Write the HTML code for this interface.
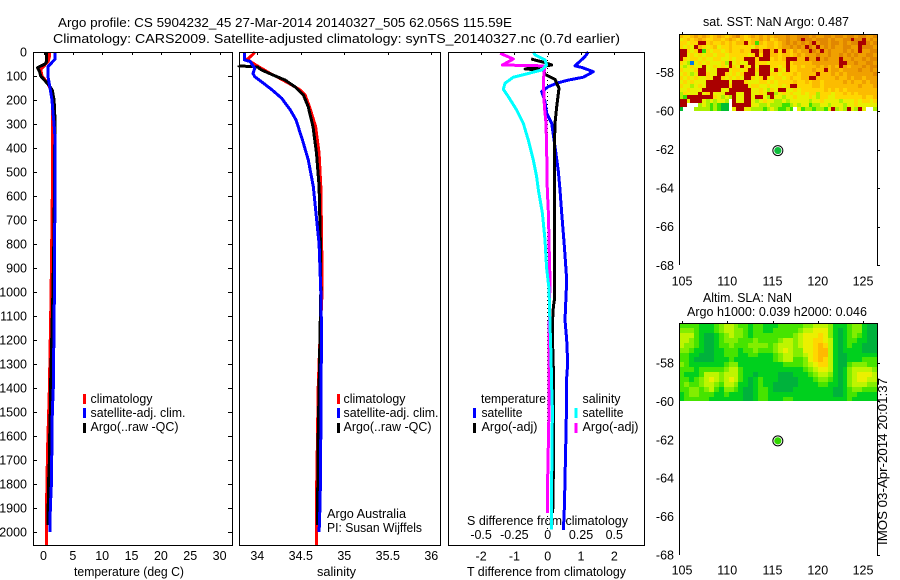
<!DOCTYPE html>
<html>
<head>
<meta charset="utf-8">
<title>Argo profile</title>
<style>
html,body{margin:0;padding:0;background:#fff;width:900px;height:580px;overflow:hidden}
svg{display:block}
text{font-family:"Liberation Sans",sans-serif;font-size:13px;fill:#000}
.tick{font-size:12.5px}
</style>
</head>
<body>
<svg id="chart" xmlns="http://www.w3.org/2000/svg" width="900" height="580" viewBox="0 0 900 580">
<rect x="0" y="0" width="900" height="580" fill="#fff"/>
<text x="58" y="27" textLength="454" lengthAdjust="spacingAndGlyphs">Argo profile: CS 5904232_45 27-Mar-2014 20140327_505 62.056S 115.59E</text>
<text x="53" y="43" textLength="567" lengthAdjust="spacingAndGlyphs">Climatology: CARS2009. Satellite-adjusted climatology: synTS_20140327.nc (0.7d earlier)</text>
<text x="74" y="576" textLength="110" lengthAdjust="spacingAndGlyphs">temperature (deg C)</text>
<text x="317" y="576" textLength="39" lengthAdjust="spacingAndGlyphs">salinity</text>
<text x="467" y="576" textLength="159" lengthAdjust="spacingAndGlyphs">T difference from climatology</text>
<text x="467" y="525" textLength="161" lengthAdjust="spacingAndGlyphs">S difference from climatology</text>
<text x="703" y="26" textLength="146" lengthAdjust="spacingAndGlyphs">sat. SST: NaN Argo: 0.487</text>
<text x="703" y="302" textLength="89" lengthAdjust="spacingAndGlyphs">Altim. SLA: NaN</text>
<text x="687" y="316" textLength="180" lengthAdjust="spacingAndGlyphs">Argo h1000: 0.039 h2000: 0.046</text>
<text x="0" y="0" transform="translate(887 545) rotate(-90)" textLength="167" lengthAdjust="spacingAndGlyphs">IMOS 03-Apr-2014 20:01:37</text>
<text x="327" y="518" textLength="79" lengthAdjust="spacingAndGlyphs">Argo Australia</text>
<text x="327" y="532" textLength="95" lengthAdjust="spacingAndGlyphs">PI: Susan Wijffels</text>
<g id="layer"></g>
</svg>
<script>
// ---- tick labels ----
const depthTicks = [0,100,200,300,400,500,600,700,800,900,1000,1100,1200,1300,1400,1500,1600,1700,1800,1900,2000];
const tempTicks = [0,5,10,15,20,25,30];
const salTicks = [34,34.5,35,35.5,36];
const salTickLabels = ['34','34.5','35','35.5','36'];
const diffTTicks = [-2,-1,0,1,2];
const diffSTicks = [-0.5,-0.25,0,0.25,0.5];
const lonTicks = [105,110,115,120,125];
const latTicks = [-58,-60,-62,-64,-66,-68];

// ---- temperature panel ----
const tempClimDepths = [0,20,40,72,100,124,150,200,300,500,1000,1400,1650,1850,2055];
const tempClimValues = [1.0,1.0,0.8,-0.48,-0.25,0.55,1.1,1.6,1.5,1.55,1.3,1.0,0.7,0.55,0.5];
const tempSatDepths = [0,30,60,100,150,200,250,300,350,600,1000,1400,1500,1700,1800,1900,2000];
const tempSatValues = [1.96,1.96,0.8,0.75,1.1,1.45,1.6,1.8,1.95,1.95,1.85,1.67,1.5,1.4,1.35,1.16,1.1];
const tempArgoDepths = [0,40,50,65,80,100,120,140,160,200,300,350,400,600,800,1000,1200,1400,1500,1600,1700,1800,1900,1970];
const tempArgoValues = [0.55,0.55,0.25,-1,-0.7,-0.48,0.25,1,1.5,1.8,2,1.95,1.9,1.85,1.75,1.6,1.4,1.2,1.15,1.05,1,0.85,0.8,0.75];

// ---- salinity panel ----
const salClimDepths = [0,10,30,40,60,89,110,137,158,179,228,311,422,561,800,1000,1200,1400,1650,1850,2055];
const salClimValues = [33.97,33.95,33.885,33.92,34.01,34.146,34.26,34.395,34.49,34.55,34.6,34.67,34.71,34.73,34.74,34.745,34.72,34.70,34.69,34.68,34.68];
const salSatDepths = [0,33,40,68,89,103,124,158,193,242,283,367,450,561,800,1000,1200,1400,1600,1700,1800,1900,2000];
const salSatValues = [33.85,33.85,33.92,33.97,33.95,33.97,34.05,34.17,34.28,34.38,34.445,34.52,34.586,34.644,34.71,34.73,34.74,34.73,34.73,34.727,34.725,34.72,34.71];
const salArgoDepths = [56,58,62,75,96,117,144,179,228,311,422,561,800,1000,1200,1400,1600,1800,1970];
const salArgoValues = [33.79,33.79,34.0,34.05,34.18,34.32,34.43,34.53,34.585,34.64,34.68,34.71,34.725,34.73,34.72,34.71,34.70,34.695,34.69];

// ---- difference panel ----
const dTSatDepths = [0,19,58,64,82,105,117,128,144,165,207,256,297,394,499,575,672,811,950,1117,1200,1297,1380,1437,1645,1895,1992];
const dTSatValues = [1.22,1.12,0.82,1.02,1.37,1.07,0.62,0.32,0.02,-0.18,-0.08,-0.03,0.12,0.22,0.32,0.37,0.42,0.5,0.57,0.52,0.57,0.6,0.56,0.57,0.54,0.5,0.47];
const dTArgoDepths = [29,44,54,71,75,93,114,151,228,297,394,575,1033,1060,1130,1230,1370,1490,1667,1920];
const dTArgoValues = [-0.5,-0.08,0.12,-0.68,-0.13,-0.08,0.22,0.34,0.27,0.22,0.2,0.2,0.2,0.17,0.14,0.15,0.18,0.18,0.18,0.15];
const dSSatDepths = [0,12,33,54,75,93,105,130,155,186,242,297,367,450,519,575,672,783,900,986,1139,1264,1400,1490,1770,1990];
const dSSatValues = [-0.108,-0.095,-0.02,-0.008,-0.045,-0.17,-0.258,-0.32,-0.333,-0.296,-0.233,-0.183,-0.146,-0.108,-0.083,-0.07,-0.04,-0.02,-0.008,0.01,0.017,0.025,0.03,0.035,0.03,0.03];
const dSArgoDepths = [5,29,54,58,75,117,228,297,394,575,672,839,950,1180,1490,1770,1920];
const dSArgoValues = [-0.358,-0.258,-0.34,-0.02,-0.025,-0.033,-0.025,-0.013,-0.008,-0.003,0.005,0.012,0.017,0.01,0.01,0,-0.003];
const zeroLineDepths = [0,2000];

// ---- map marker ----
const floatLon = [115.59];
const floatLat = [-62.056];

// ---- map cells: colour-scale level per cell, null = no data, 9 = over-range, -3 = under-range ----
const N = null;
const sstGrid = [
[5,4,4,5,6,5,6,5,4,5,6,5,4,5,6,7,5,4,5,6,5,6,5,6,5,6,6,6,7,6,6,7,7,7,6,7,6,6,7,7,6,7,7,6,7,7,6,7,7,6,6,7],
[3,4,5,4,5,6,5,4,4,5,5,4,5,6,5,4,5,4,4,5,5,6,5,6,4,5,6,6,7,6,6,7,9,7,7,6,7,7,7,6,7,6,6,7,7,9,7,7,9,6,7,6],
[4,4,3,4,4,9,9,4,5,4,4,5,4,5,4,5,5,9,4,5,1,5,4,5,5,4,5,6,7,6,7,6,7,6,7,9,6,7,7,6,7,7,6,7,6,7,7,9,9,7,6,7],
[4,3,4,3,9,5,4,3,4,5,3,4,4,5,4,4,4,4,4,3,5,4,4,5,5,4,5,6,6,7,6,7,6,9,7,6,9,6,7,6,7,6,6,7,7,6,6,9,7,7,7,6],
[9,9,4,3,4,9,1,4,3,4,4,3,4,5,4,4,5,4,4,9,9,5,9,9,5,9,4,9,5,4,6,5,6,6,9,7,6,9,6,7,6,6,6,7,6,7,6,9,6,6,7,7],
[9,9,3,4,3,4,3,4,4,3,4,4,3,4,4,4,4,4,3,4,9,4,9,9,5,5,4,5,5,4,5,6,5,6,6,6,7,6,6,7,6,6,7,6,7,6,7,6,6,7,7,6],
[9,4,3,4,4,3,4,3,3,4,4,3,3,4,3,4,4,9,9,9,4,9,9,9,4,5,4,5,9,9,9,5,5,9,6,6,9,6,7,6,6,6,9,6,6,7,6,6,7,6,7,7],
[4,3,2,-3,3,4,3,4,3,3,3,4,2,9,3,4,3,3,9,9,4,4,4,3,4,4,4,4,9,4,5,5,5,5,5,6,6,6,6,6,6,6,9,9,6,6,7,6,6,7,7,6],
[3,2,3,4,3,3,9,3,3,4,3,4,3,9,4,3,9,4,3,9,3,9,9,9,4,4,3,4,9,4,4,5,4,5,5,5,6,5,6,5,6,5,9,6,5,6,6,6,7,6,7,7],
[4,3,3,3,4,9,9,3,3,3,9,9,9,3,4,4,3,4,9,9,4,9,9,9,3,9,4,3,9,4,4,5,5,5,5,6,5,5,9,5,6,6,5,6,6,6,6,7,6,6,7,6],
[3,4,3,2,3,9,9,4,3,3,9,9,4,3,4,3,4,9,9,9,3,9,9,9,4,4,3,4,4,4,5,4,5,5,5,5,9,5,5,5,6,5,6,5,6,6,6,6,6,6,6,7],
[4,3,4,3,4,3,3,4,3,9,9,4,3,4,3,4,3,9,9,4,3,4,9,4,3,4,4,3,4,5,4,4,5,5,9,9,5,5,5,5,5,6,5,5,6,5,6,6,5,6,6,6],
[3,4,3,4,3,3,3,9,9,9,9,9,9,3,9,9,9,4,3,3,3,4,4,3,4,3,4,4,4,4,5,4,4,5,4,5,5,4,5,5,5,5,5,6,5,6,5,5,6,5,6,6],
[4,3,3,2,3,4,3,9,9,9,9,9,9,4,9,9,9,9,3,4,4,3,3,4,3,3,4,3,4,9,9,4,4,4,4,5,5,4,5,5,5,5,5,5,5,5,5,6,5,5,5,6],
[3,3,4,3,3,3,9,9,9,9,9,3,3,9,9,9,9,9,9,3,3,4,3,2,4,3,9,9,3,3,4,3,4,4,4,4,4,4,5,4,5,4,5,4,5,5,5,5,5,5,5,5],
[2,4,3,3,3,9,3,4,9,3,3,3,9,9,9,3,3,9,9,3,3,4,3,9,9,2,3,4,3,4,3,3,4,3,4,4,2,4,4,4,3,4,4,5,4,5,4,5,5,5,5,5],
[2,1,9,9,9,9,9,9,9,4,3,2,3,2,9,3,3,9,9,3,9,9,3,2,9,3,3,2,3,3,4,3,3,3,4,3,2,4,4,3,3,4,4,4,4,4,4,4,5,4,4,5],
[9,9,3,9,9,9,3,2,3,2,3,3,2,N,9,3,3,9,9,3,2,3,4,3,3,2,2,3,2,3,3,3,3,3,2,3,3,4,3,3,3,3,2,3,3,3,4,3,4,4,3,4],
[9,9,N,N,N,2,3,2,1,2,1,0,0,N,9,9,9,9,9,3,3,2,2,3,2,2,2,1,1,2,3,2,3,3,1,2,2,3,3,2,3,3,3,2,3,3,4,3,3,3,3,3],
[0,N,N,N,2,2,2,2,1,2,1,0,0,N,3,9,9,3,3,2,2,2,1,2,3,2,1,1,2,1,N,3,1,2,2,1,2,2,1,3,9,2,3,2,9,3,2,9,3,N,N,2]
];
const slaGrid = [
[2,2,2,2,1,1,1,2,3,4,4,3,2,2,1,2,2,1,1,1,2,2,2,2,2,3,3,4,4,4,3,1,1,1,2,3,3,1,0,0],
[3,3,3,2,1,1,1,2,3,4,4,3,3,2,1,2,2,1,1,2,2,2,2,2,3,4,4,5,5,5,3,1,0,1,2,3,3,1,0,0],
[4,4,4,2,1,0,0,1,2,3,4,3,3,2,1,2,2,2,2,2,2,2,2,3,4,5,5,5,6,5,3,1,0,1,2,3,2,1,0,0],
[4,4,3,2,1,0,0,1,2,3,3,3,2,2,2,3,2,2,2,2,3,4,4,3,4,5,5,6,6,5,4,1,0,1,2,2,1,1,0,0],
[4,3,3,2,1,0,0,1,2,2,3,2,2,2,3,3,3,3,2,3,4,4,4,3,4,5,5,6,7,6,4,1,0,1,2,1,1,0,0,0],
[3,3,2,1,1,0,0,1,1,2,2,2,1,2,2,3,2,2,2,3,4,5,4,3,3,5,5,6,7,7,4,1,0,1,1,1,1,0,0,0],
[2,2,1,1,0,0,0,1,1,2,2,2,1,1,2,2,1,1,1,2,3,4,4,3,3,4,5,6,7,7,4,1,0,0,1,1,1,1,1,1],
[2,2,1,0,0,0,0,1,1,1,2,1,1,1,1,1,1,1,1,2,3,4,4,2,2,3,5,6,7,6,4,1,0,0,1,1,1,2,2,2],
[3,2,1,1,1,1,1,1,1,2,3,3,1,1,1,1,1,1,1,1,1,2,2,2,2,3,4,5,6,6,4,1,0,0,2,3,3,3,2,2],
[2,2,2,1,2,2,2,2,2,3,4,4,2,1,1,1,1,1,1,1,1,1,1,1,1,2,3,4,5,5,4,1,0,1,3,4,4,4,4,3],
[2,1,1,1,2,4,4,4,3,4,4,4,2,1,1,0,1,1,1,1,0,0,0,1,1,1,2,3,4,4,3,1,0,1,3,4,5,5,5,4],
[2,2,1,2,3,4,5,4,3,4,5,4,2,1,0,1,2,1,1,1,0,0,0,0,1,1,1,2,3,3,2,1,0,1,3,4,5,5,4,4],
[2,3,2,2,3,4,4,3,2,4,4,3,1,1,0,1,2,1,1,0,0,0,0,0,1,1,1,1,2,2,1,1,0,1,3,4,4,4,3,3],
[2,2,3,3,2,3,4,2,1,3,3,2,1,0,0,1,2,2,1,0,0,0,0,1,1,1,1,1,1,1,1,0,0,1,2,3,3,2,2,2],
[1,2,3,3,2,2,2,1,1,2,1,1,1,0,0,1,2,2,1,1,1,1,1,1,1,1,1,1,1,1,1,0,0,1,2,2,1,1,1,1],
[1,2,2,2,2,2,1,1,1,1,1,1,1,0,0,1,2,2,1,1,1,2,2,1,1,1,1,1,1,1,1,1,1,1,2,1,1,1,1,1]
];

// ---- axis functions ----
function depthY(d){return 52+0.24*d;}
function tempX(t){return 43.5+5.87*t;}
function salX(s){return 257.3+87*(s-34);}
function diffTX(t){return 547.7+33.3*t;}
function diffSX(s){return 547.7+133.2*s;}
function lonX(l){return 682+9.05*(l-105);}
function latYTop(a){return 72.3+19.3*(-58-a);}
function latYBottom(a){return 363+19.2*(-58-a);}

const layer = document.getElementById('layer');
const SVGNS = 'http://www.w3.org/2000/svg';
function mk(tag, attrs, text){
  const el = document.createElementNS(SVGNS, tag);
  for (const k in attrs) el.setAttribute(k, attrs[k]);
  if (text !== undefined) el.textContent = text;
  layer.appendChild(el);
  return el;
}
function hline(x1,x2,y,name){
  const el = mk('rect',{x:Math.round(x1),y:Math.round(y),width:Math.round(x2-x1),height:1,fill:'#000'});
  
  
}
function vline(x,y1,y2,name){
  const el = mk('rect',{x:Math.round(x),y:Math.round(y1),width:1,height:Math.round(y2-y1),fill:'#000'});
  
  
}
function label(x,y,anchor,str,name){
  const el = mk('text',{x:x,y:y,'text-anchor':anchor,'class':'tick'},str);
  
  
}
function series(depths,values,xFn,color,name){
  const pts = depths.map(function(d,i){return xFn(values[i]).toFixed(1)+','+depthY(d).toFixed(1);}).join(' ');
  const el = mk('polyline',{points:pts,fill:'none',stroke:color,'stroke-width':3,'stroke-linejoin':'round','shape-rendering':'crispEdges'});
  
  
}
function frame(x1,x2,y1,y2,name){
  hline(x1,x2+1,y1,name+'-top-border');
  hline(x1,x2+1,y2,name+'-bottom-border');
  vline(x1,y1,y2,name+'-left-border');
  vline(x2,y1,y2,name+'-right-border');
}
function legendSwatch(x,y,color,name){
  const el = mk('rect',{x:x,y:y,width:3,height:10,fill:color});
  
  
}
function legendText(x,y,w,str,name){
  const el = mk('text',{x:x,y:y,textLength:w,lengthAdjust:'spacingAndGlyphs'},str);
  
  
}

// ---- profile panels ----
series(tempClimDepths,tempClimValues,tempX,'#ff0000','temperature-climatology-line');
series(tempArgoDepths,tempArgoValues,tempX,'#000000','temperature-argo-line');
series(tempSatDepths,tempSatValues,tempX,'#0000ff','temperature-satellite-line');

series(salClimDepths,salClimValues,salX,'#ff0000','salinity-climatology-line');
series(salArgoDepths,salArgoValues,salX,'#000000','salinity-argo-line');
series(salSatDepths,salSatValues,salX,'#0000ff','salinity-satellite-line');

(function(){
  const el = mk('line',{x1:diffTX(0),x2:diffTX(0),y1:depthY(zeroLineDepths[0]),y2:depthY(zeroLineDepths[1]),stroke:'#000','stroke-width':1,'stroke-dasharray':'1 3','shape-rendering':'crispEdges'});
  
  
})();
series(dTSatDepths,dTSatValues,diffTX,'#0000ff','t-difference-satellite-line');
series(dTArgoDepths,dTArgoValues,diffTX,'#000000','t-difference-argo-line');
series(dSArgoDepths,dSArgoValues,diffSX,'#ff00ff','s-difference-argo-line');
series(dSSatDepths,dSSatValues,diffSX,'#00ffff','s-difference-satellite-line');

// frames
frame(33,232,52,545,'temperature-panel');
frame(239,440,52,545,'salinity-panel');
frame(448,644,52,545,'difference-panel');

// depth ticks
depthTicks.forEach(function(d){
  hline(33,37,depthY(d),'depth-tick-left');
  hline(228,232,depthY(d),'depth-tick-right');
  label(27,depthY(d)+4.5,'end',String(d),'depth-tick-label');
});
// temperature ticks
tempTicks.forEach(function(t){
  vline(tempX(t),52,55,'temperature-tick');
  label(tempX(t),560,'middle',String(t),'temperature-tick-label');
});
// salinity ticks
salTicks.forEach(function(s,i){
  vline(salX(s),52,55,'salinity-tick');
  label(salX(s),560,'middle',salTickLabels[i],'salinity-tick-label');
});
// T difference ticks
diffTTicks.forEach(function(t){
  vline(diffTX(t),52,55,'t-difference-tick');
  label(diffTX(t),560.5,'middle',String(t),'t-difference-tick-label');
});
// S difference ticks
diffSTicks.forEach(function(s){
  label(diffSX(s),539,'middle',String(s),'s-difference-tick-label');
});

// ---- legends ----
legendSwatch(83,394,'#ff0000','temperature-legend-climatology-swatch');
legendSwatch(83,408,'#0000ff','temperature-legend-satellite-swatch');
legendSwatch(83,423,'#000000','temperature-legend-argo-swatch');
legendText(90.5,403,62,'climatology','temperature-legend-climatology');
legendText(90.5,417,95,'satellite-adj. clim.','temperature-legend-satellite');
legendText(90.5,431,88,'Argo(..raw -QC)','temperature-legend-argo');

legendSwatch(337,394,'#ff0000','salinity-legend-climatology-swatch');
legendSwatch(337,408,'#0000ff','salinity-legend-satellite-swatch');
legendSwatch(337,423,'#000000','salinity-legend-argo-swatch');
legendText(343.5,403,62,'climatology','salinity-legend-climatology');
legendText(343.5,417,95,'satellite-adj. clim.','salinity-legend-satellite');
legendText(343.5,431,88,'Argo(..raw -QC)','salinity-legend-argo');

legendText(481,403,65,'temperature','difference-legend-temperature-heading');
legendText(481.5,417,41,'satellite','difference-legend-t-satellite');
legendText(481.5,431,56,'Argo(-adj)','difference-legend-t-argo');
legendSwatch(473,408,'#0000ff','difference-legend-t-satellite-swatch');
legendSwatch(473,423,'#000000','difference-legend-t-argo-swatch');
legendText(582.5,403,38,'salinity','difference-legend-salinity-heading');
legendText(582.5,417,41,'satellite','difference-legend-s-satellite');
legendText(582.5,431,56,'Argo(-adj)','difference-legend-s-argo');
legendSwatch(574.5,408,'#00ffff','difference-legend-s-satellite-swatch');
legendSwatch(574.5,423,'#ff00ff','difference-legend-s-argo-swatch');

// ---- maps ----
const sstLonStart = 104.67, sstLonStep = 21.9/52, sstLatStart = -56.0, sstLatStep = 4.0/20;
const slaLonStart = 104.67, slaLonStep = 21.9/40, slaLatStart = -55.93, slaLatStep = 4.07/16;

function sstColor(v){
  if (v === 9) return 'rgb(170,0,0)';
  if (v === -3) return 'rgb(0,120,230)';
  const stops = ['rgb(0,190,50)','rgb(60,225,0)','rgb(170,240,0)','rgb(232,240,0)','rgb(255,215,0)','rgb(252,188,0)','rgb(240,160,0)','rgb(225,135,0)'];
  return stops[Math.max(0,Math.min(7,Math.round(v)))];
}
function slaColor(v){
  const stops = ['rgb(0,178,60)','rgb(0,208,30)','rgb(70,228,0)','rgb(130,238,0)','rgb(190,245,0)','rgb(235,240,0)','rgb(255,215,0)','rgb(255,185,0)'];
  return stops[Math.max(0,Math.min(7,Math.round(v)))];
}
sstGrid.forEach(function(row,r){
  row.forEach(function(v,c){
    if (v === null) return;
    const x0 = Math.round(lonX(sstLonStart+c*sstLonStep)), x1 = Math.round(lonX(sstLonStart+(c+1)*sstLonStep));
    const y0 = Math.round(latYTop(sstLatStart-r*sstLatStep)), y1 = Math.round(latYTop(sstLatStart-(r+1)*sstLatStep));
    const el = mk('rect',{x:x0,y:y0,width:x1-x0,height:y1-y0,fill:sstColor(v),'shape-rendering':'crispEdges'});
    
    
  });
});
slaGrid.forEach(function(row,r){
  row.forEach(function(v,c){
    if (v === null) return;
    const x0 = Math.round(lonX(slaLonStart+c*slaLonStep)), x1 = Math.round(lonX(slaLonStart+(c+1)*slaLonStep));
    const y0 = Math.round(latYBottom(slaLatStart-r*slaLatStep)), y1 = Math.round(latYBottom(slaLatStart-(r+1)*slaLatStep));
    const el = mk('rect',{x:x0,y:y0,width:x1-x0,height:y1-y0,fill:slaColor(v),'shape-rendering':'crispEdges'});
    
    
  });
});

function mapAxes(yFn,top,bottom,lonLabelY,name){
  hline(679,878,top,name+'-top-border');
  vline(679,top,bottom,name+'-left-border');
  vline(877,top,bottom,name+'-right-border');
  lonTicks.forEach(function(l){
    vline(lonX(l),top-2,top,name+'-longitude-tick');
    label(lonX(l),lonLabelY,'middle',String(l),name+'-longitude-label');
  });
  latTicks.forEach(function(a){
    hline(877,880,yFn(a),name+'-latitude-tick');
    label(674,yFn(a)+4.5,'end',String(a),name+'-latitude-label');
  });
}
mapAxes(latYTop,34,265,285.5,'sst-map');
mapAxes(latYBottom,323,555,574.5,'sla-map');

function marker(yFn,fill,name){
  const outer = mk('circle',{cx:lonX(floatLon[0]),cy:yFn(floatLat[0]),r:5,fill:'#fff',stroke:'#000','stroke-width':1});
  
  
  const inner = mk('circle',{cx:lonX(floatLon[0]),cy:yFn(floatLat[0]),r:3.6,fill:fill});
  
  
}
marker(latYTop,'rgb(15,190,60)','sst-float-marker');
marker(latYBottom,'rgb(50,215,0)','sla-float-marker');
</script>
</body>
</html>
